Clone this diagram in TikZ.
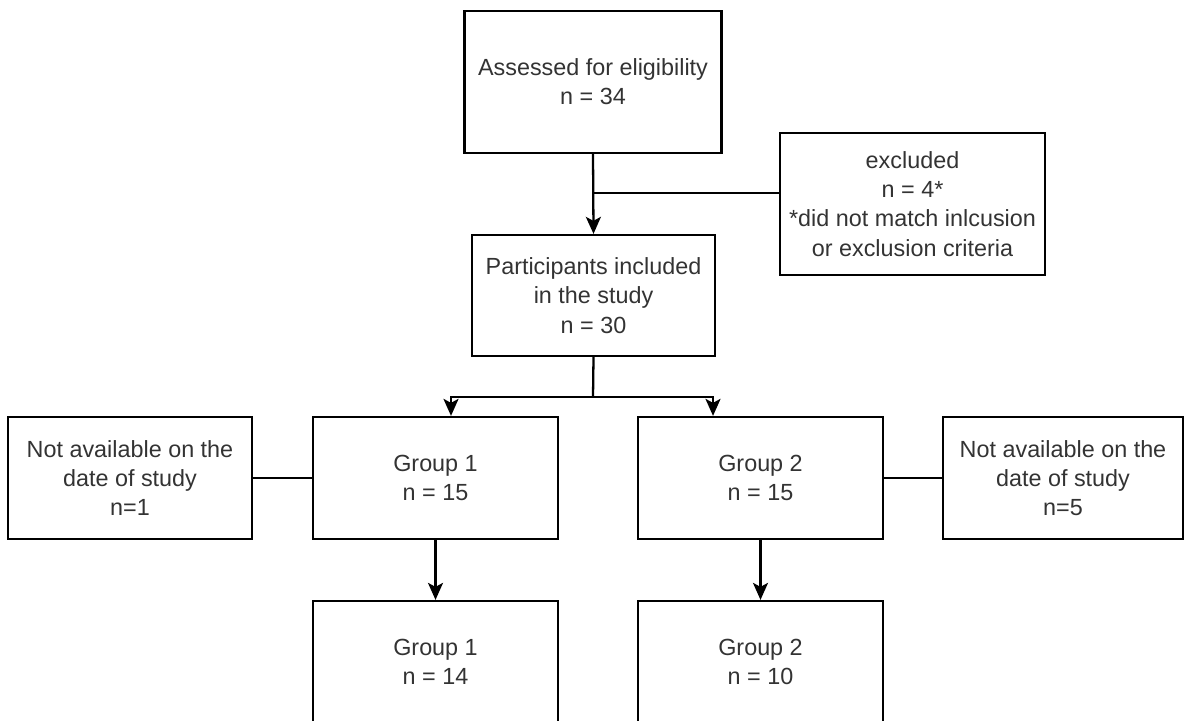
\documentclass[tikz,border=0pt]{standalone}
\usepackage{fontspec}
\setmainfont{Liberation Sans}
\usetikzlibrary{arrows.meta,positioning,calc}

\tikzset{
    box/.style={draw, line width=1.3pt, align=center, inner sep=0pt,
        minimum width=4.88cm, minimum height=2.44cm, text=black!80,
        font=\fontsize{13.3pt}{16.6pt}\selectfont},
    link/.style={line width=1.3pt},
    arr/.style={line width=1.3pt, -{Stealth[length=0.34cm, width=0.3cm, inset=0.08cm]}}
}

\begin{document}
\begin{tikzpicture}[x=0.02cm, y=-0.02cm]

    \useasboundingbox (0,0) rectangle (1185,720);
    \clip (0,0) rectangle (1185,720);

    %nodes
    \node[box, minimum width=5.14cm, minimum height=2.84cm] (assess) at (593,82) {Assessed for eligibility\\n = 34};
    \node[box, minimum width=4.86cm, minimum height=2.42cm] (incl) at (593.5,295.5) {Participants included\\in the study\\n = 30};
    \node[box, minimum width=5.3cm, minimum height=2.84cm] (excl) at (912.5,204) {excluded\\n = 4*\\*did not match inlcusion\\or exclusion criteria};

    \node[box] (navail1) at (130,478) {Not available on the\\date of study\\n=1};
    \node[box, minimum width=4.9cm] (grp1) at (435.5,478) {Group 1\\n = 15};
    \node[box, minimum width=4.9cm] (grp2) at (760.5,478) {Group 2\\n = 15};
    \node[box, minimum width=4.8cm] (navail2) at (1063,478) {Not available on the\\date of study\\n=5};

    \node[box, minimum width=4.9cm] (fin1) at (435.5,662) {Group 1\\n = 14};
    \node[box, minimum width=4.9cm] (fin2) at (760.5,662) {Group 2\\n = 10};

    %junctions
    \coordinate (exj) at (593,193);
    \coordinate (fork) at (593,397);

    %connectors
    \draw[arr] (assess.south) -- (incl.north);
    \draw[link] (exj) -- (exj -| excl.west);

    \draw[link] (incl.south) -- (fork);
    \draw[arr] (fork) -| ([xshift=0.31cm]grp1.north);
    \draw[arr] (fork) -| ([xshift=-0.95cm]grp2.north);

    \draw[link] (navail1) -- (grp1);
    \draw[link] (grp2) -- (navail2);

    \draw[arr] (grp1) -- (fin1);
    \draw[arr] (grp2) -- (fin2);

\end{tikzpicture}
\end{document}
